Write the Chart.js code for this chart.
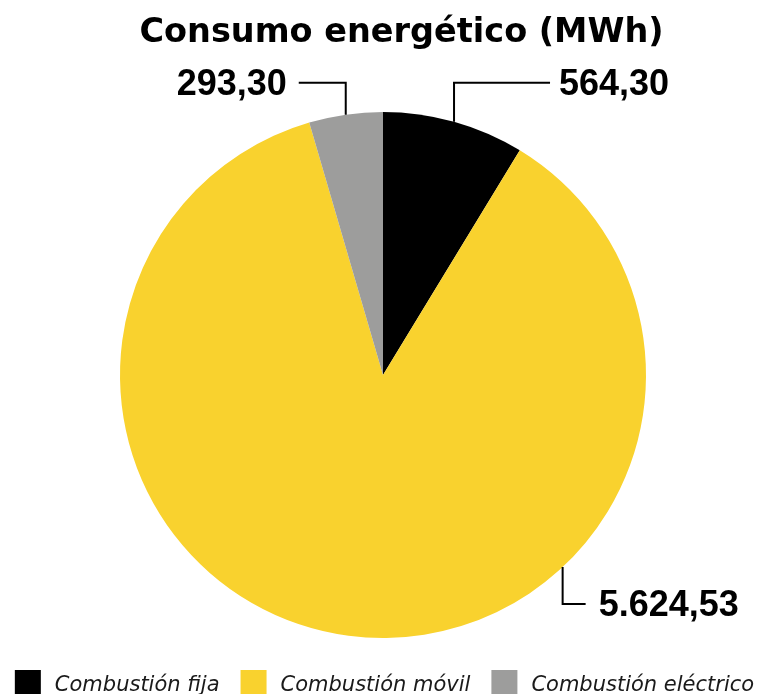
<!DOCTYPE html>
<html>
<head>
<meta charset="utf-8">
<script src="https://cdn.jsdelivr.net/npm/chart.js@4.4.0/dist/chart.umd.min.js"></script>
<style>
  html, body { margin: 0; padding: 0; background: #fff; overflow: hidden; }
  #wrap { width: 760px; height: 694px; position: relative; }
</style>
</head>
<body>
<div id="wrap"><canvas id="pieChart"></canvas></div>
<script>
// ── Data ─────────────────────────────────────────────────────────
const TITLE = 'Consumo energético (MWh)';
const categories = ['Combustión fija', 'Combustión móvil', 'Combustión eléctrico'];
const values = [564.30, 5624.53, 293.30];
const colors = ['#000000', '#F9D22E', '#9D9D9C'];

// leader line per slice: point on the arc (fraction of slice), vertical run, horizontal run, text gap
const leaders = [
  { at: 0.5,   dy: -39, dx: 96,  gap: 9 },
  { at: 0.338, dy: 37,  dx: 23,  gap: 13 },
  { at: 0.5,   dy: -32, dx: -47, gap: 12 }
];

function fmtES(v) {
  const [i, d] = v.toFixed(2).split('.');
  return i.replace(/\B(?=(\d{3})+(?!\d))/g, '.') + ',' + d;
}

// ── Title, leader labels, legend row ─────────────────────────────
const decorations = {
  id: 'decorations',
  afterDraw(chart) {
    const { ctx } = chart;
    const meta = chart.getDatasetMeta(0);
    ctx.save();
    ctx.strokeStyle = '#000';
    ctx.fillStyle = '#000';
    ctx.lineWidth = 2;
    ctx.font = 'bold 36px "Liberation Sans"';
    ctx.textBaseline = 'alphabetic';
    meta.data.forEach((arc, i) => {
      const L = leaders[i];
      const a = arc.startAngle + L.at * (arc.endAngle - arc.startAngle);
      const x0 = arc.x + arc.outerRadius * Math.cos(a);
      const y0 = arc.y + arc.outerRadius * Math.sin(a);
      const ey = y0 + L.dy, ex = x0 + L.dx;
      ctx.beginPath();
      ctx.moveTo(x0, y0);
      ctx.lineTo(x0, ey);
      ctx.lineTo(ex, ey);
      ctx.stroke();
      ctx.textAlign = L.dx < 0 ? 'right' : 'left';
      ctx.fillText(fmtES(values[i]), ex + Math.sign(L.dx) * L.gap, ey + 12);
    });

    // title
    ctx.font = 'bold 33.5px "DejaVu Sans"';
    ctx.textAlign = 'center';
    ctx.fillText(TITLE, 401.5, 42);

    // legend
    const boxW = 26, boxH = 24, textGap = 14, itemGap = 21, top = 670;
    ctx.font = 'italic 21px "DejaVu Sans"';
    ctx.textAlign = 'left';
    const widths = categories.map(c => ctx.measureText(c).width);
    const total = widths.reduce((s, w) => s + boxW + textGap + w, 0) + itemGap * (categories.length - 1);
    let x = 384.5 - total / 2;
    categories.forEach((c, i) => {
      ctx.fillStyle = colors[i];
      ctx.fillRect(x, top, boxW, boxH);
      ctx.fillStyle = '#1a1a1a';
      ctx.fillText(c, x + boxW + textGap, top + 21);
      x += boxW + textGap + widths[i] + itemGap;
    });
    ctx.restore();
  }
};

new Chart(document.getElementById('pieChart'), {
  type: 'pie',
  data: {
    labels: categories,
    datasets: [{
      data: values,
      backgroundColor: colors,
      borderWidth: 0,
      hoverOffset: 0,
      radius: 263
    }]
  },
  options: {
    responsive: true, maintainAspectRatio: false,
    animation: false,
    layout: { padding: { top: 96, left: 6, right: 0, bottom: 40 } },
    plugins: {
      tooltip: { enabled: false },
      title: { display: false },
      legend: { display: false }
    }
  },
  plugins: [decorations]
});
</script>
</body>
</html>
